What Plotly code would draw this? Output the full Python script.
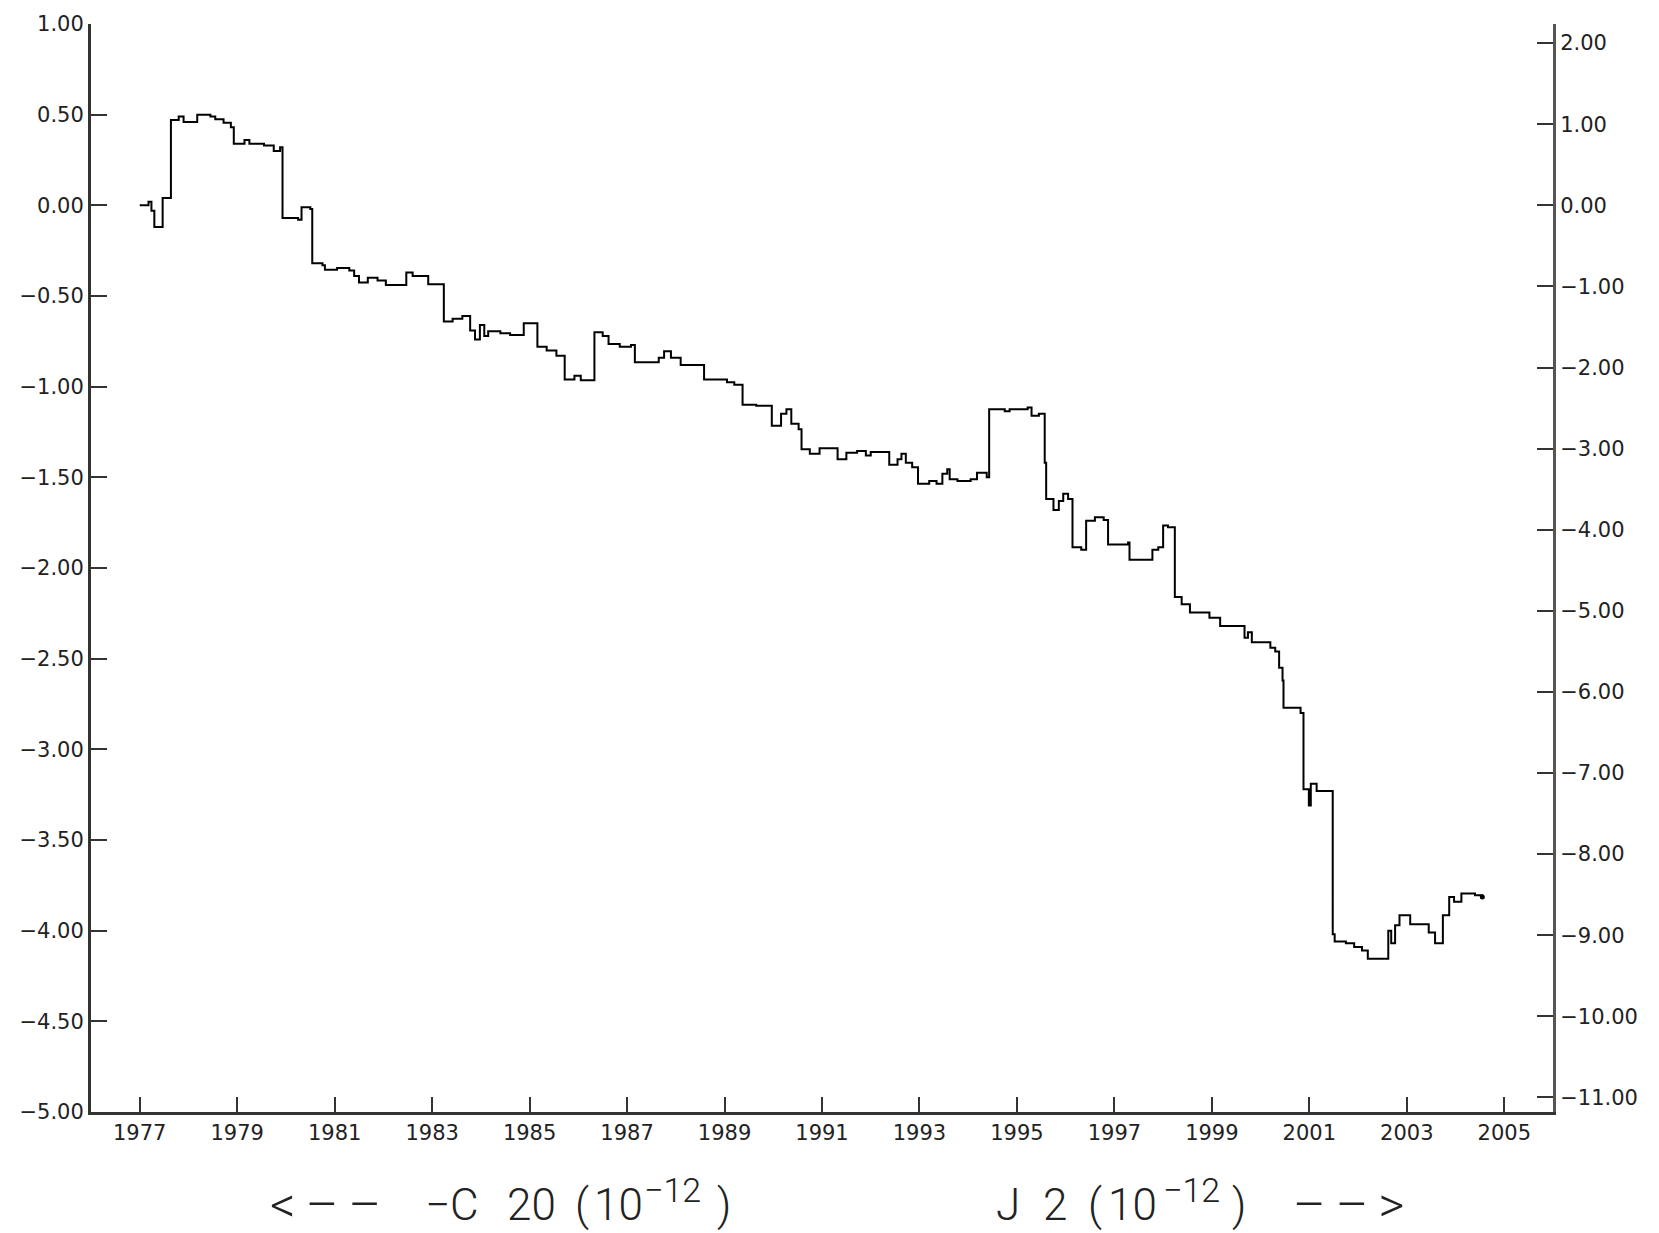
import math
import plotly.graph_objects as go

# Step-series: start year of each level and the -C20 level (1e-12)
years = [
    1977.00, 1977.18, 1977.24, 1977.30, 1977.47, 1977.64, 1977.80, 1977.90, 1978.18, 1978.45,
    1978.55, 1978.72, 1978.87, 1978.93, 1979.15, 1979.25, 1979.55, 1979.75, 1979.88, 1979.93,
    1980.25, 1980.32, 1980.50, 1980.54, 1980.75, 1980.80, 1981.05, 1981.30, 1981.40, 1981.50,
    1981.68, 1981.88, 1982.05, 1982.47, 1982.60, 1982.92, 1983.24, 1983.42, 1983.62, 1983.78,
    1983.88, 1983.98, 1984.07, 1984.15, 1984.40, 1984.60, 1984.88, 1985.16, 1985.35, 1985.55,
    1985.72, 1985.92, 1986.05, 1986.33, 1986.50, 1986.62, 1986.85, 1987.08, 1987.16, 1987.65,
    1987.76, 1987.90, 1988.10, 1988.58, 1989.05, 1989.20, 1989.37, 1989.65, 1989.97, 1990.16,
    1990.27, 1990.37, 1990.52, 1990.58, 1990.75, 1990.95, 1991.32, 1991.50, 1991.72, 1991.90,
    1992.00, 1992.38, 1992.55, 1992.63, 1992.72, 1992.85, 1992.97, 1993.20, 1993.35, 1993.47,
    1993.57, 1993.62, 1993.78, 1994.05, 1994.18, 1994.38, 1994.43, 1994.75, 1994.85, 1995.22,
    1995.30, 1995.45, 1995.57, 1995.60, 1995.75, 1995.86, 1995.95, 1996.05, 1996.14, 1996.32,
    1996.42, 1996.60, 1996.78, 1996.87, 1997.28, 1997.31, 1997.78, 1997.90, 1998.00, 1998.10,
    1998.24, 1998.38, 1998.55, 1998.95, 1999.17, 1999.67, 1999.74, 1999.82, 2000.20, 2000.30,
    2000.38, 2000.45, 2000.47, 2000.82, 2000.88, 2000.99, 2001.03, 2001.15, 2001.48, 2001.52,
    2001.75, 2001.92, 2002.08, 2002.20, 2002.62, 2002.68, 2002.76, 2002.85, 2003.07, 2003.45,
    2003.58, 2003.74, 2003.87, 2003.97, 2004.12, 2004.40, 2004.55,
]
c20_neg = [
    0.00, 0.02, -0.03, -0.12, 0.04, 0.47, 0.49, 0.46, 0.50, 0.49,
    0.475, 0.455, 0.43, 0.34, 0.36, 0.34, 0.33, 0.30, 0.32, -0.07,
    -0.08, -0.01, -0.02, -0.32, -0.33, -0.355, -0.345, -0.36, -0.39, -0.425,
    -0.40, -0.415, -0.44, -0.37, -0.39, -0.435, -0.64, -0.625, -0.61, -0.69,
    -0.74, -0.66, -0.72, -0.695, -0.705, -0.715, -0.65, -0.78, -0.80, -0.83,
    -0.96, -0.94, -0.965, -0.70, -0.72, -0.765, -0.78, -0.77, -0.865, -0.84,
    -0.805, -0.84, -0.88, -0.96, -0.975, -0.99, -1.10, -1.105, -1.215, -1.15,
    -1.125, -1.205, -1.235, -1.345, -1.37, -1.34, -1.40, -1.365, -1.355, -1.38,
    -1.36, -1.43, -1.40, -1.37, -1.42, -1.445, -1.535, -1.52, -1.535, -1.48,
    -1.455, -1.51, -1.52, -1.51, -1.475, -1.50, -1.125, -1.135, -1.125, -1.115,
    -1.16, -1.15, -1.42, -1.62, -1.68, -1.63, -1.59, -1.62, -1.885, -1.90,
    -1.74, -1.72, -1.735, -1.87, -1.86, -1.955, -1.90, -1.885, -1.765, -1.775,
    -2.16, -2.20, -2.245, -2.275, -2.32, -2.385, -2.355, -2.41, -2.44, -2.46,
    -2.55, -2.62, -2.77, -2.80, -3.22, -3.31, -3.19, -3.23, -4.02, -4.06,
    -4.07, -4.09, -4.11, -4.155, -4.00, -4.07, -3.97, -3.915, -3.965, -4.01,
    -4.07, -3.915, -3.815, -3.84, -3.795, -3.805, -3.815,
]

x_ticks = list(range(1977, 2006, 2))
left_ticks = [1.0, 0.5, 0.0, -0.5, -1.0, -1.5, -2.0, -2.5, -3.0, -3.5, -4.0, -4.5, -5.0]
right_ticks = [2, 1, 0, -1, -2, -3, -4, -5, -6, -7, -8, -9, -10, -11]
left_range = [-5.0, 1.0]
SQ5 = math.sqrt(5)
right_range = [left_range[0] * SQ5, left_range[1] * SQ5]

# bottom caption pieces: (text, paper-x centre, kind)
caption = [
    ("&lt;\u2009\u2013\u2009\u2013", 0.1603, "arrow"),
    ("\u2212C", 0.2471, "main"),
    ("20", 0.3014, "main"),
    ("(", 0.3358, "main"),
    ("10", 0.3611, "main"),
    ("\u221212", 0.3975, "sup"),
    (")", 0.4330, "main"),
    ("J", 0.6270, "main"),
    ("2", 0.6597, "main"),
    ("(", 0.6868, "main"),
    ("10", 0.7121, "main"),
    ("\u221212", 0.7525, "sup"),
    (")", 0.7850, "main"),
    ("\u2013\u2009\u2013\u2009&gt;", 0.8598, "arrow"),
]

def fmt(v):
    s = f"{abs(v):.2f}"
    return ("\u2212" + s) if v < 0 else s

AX = "#333333"
TICKFONT = dict(family="DejaVu Sans", size=21, color="#222222")

fig = go.Figure()
fig.add_trace(go.Scatter(
    x=years, y=c20_neg, mode="lines", line=dict(color="black", width=2, shape="hv"),
    showlegend=False, hoverinfo="skip",
))
fig.add_trace(go.Scatter(
    x=[years[-1]], y=[c20_neg[-1]], mode="markers",
    marker=dict(color="black", size=5), showlegend=False, hoverinfo="skip",
))
# invisible trace to activate the right axis
fig.add_trace(go.Scatter(x=[years[0]], y=[0], yaxis="y2", mode="markers",
                         marker=dict(opacity=0), showlegend=False, hoverinfo="skip"))

fig.update_layout(
    width=1659, height=1233, autosize=False,
    margin=dict(l=91, r=106, t=19, b=121, pad=0),
    paper_bgcolor="white", plot_bgcolor="white",
    xaxis=dict(range=[1976, 2006], tickvals=x_ticks, ticktext=[str(t) for t in x_ticks],
               showgrid=False, zeroline=False, showline=True, linecolor=AX, linewidth=3,
               ticks="inside", ticklen=15, tickwidth=2, tickcolor=AX, tickfont=TICKFONT),
    yaxis=dict(range=left_range, tickvals=left_ticks, ticktext=[fmt(v) for v in left_ticks],
               showgrid=False, zeroline=False, showline=True, linecolor=AX, linewidth=3,
               ticks="inside", ticklen=16, tickwidth=2, tickcolor=AX, tickfont=TICKFONT),
    yaxis2=dict(range=right_range, overlaying="y", side="right",
                tickvals=right_ticks, ticktext=[fmt(v) for v in right_ticks],
                showgrid=False, zeroline=False, showline=True, linecolor="#555555", linewidth=3,
                ticks="inside", ticklen=16, tickwidth=2, tickcolor=AX, tickfont=TICKFONT),
    font=dict(family="DejaVu Sans", color="#222222"),
)

FAM = "Roboto, Liberation Sans, sans-serif"
FONTS = {
    "main": dict(family=FAM, size=44, color="#222222", weight=300),
    "arrow": dict(family=FAM, size=50, color="#222222", weight=300),
    "sup": dict(family=FAM, size=34, color="#222222", weight=300),
}
YPOS = {"main": -0.0855, "arrow": -0.0855, "sup": -0.0715}
for txt, xp, kind in caption:
    fig.add_annotation(text=txt, xref="paper", yref="paper", x=xp, y=YPOS[kind],
                       showarrow=False, xanchor="center", yanchor="middle",
                       font=FONTS[kind])

fig.write_html("out.html", config={"displayModeBar": False},
               post_script="document.body.style.margin='0';")
